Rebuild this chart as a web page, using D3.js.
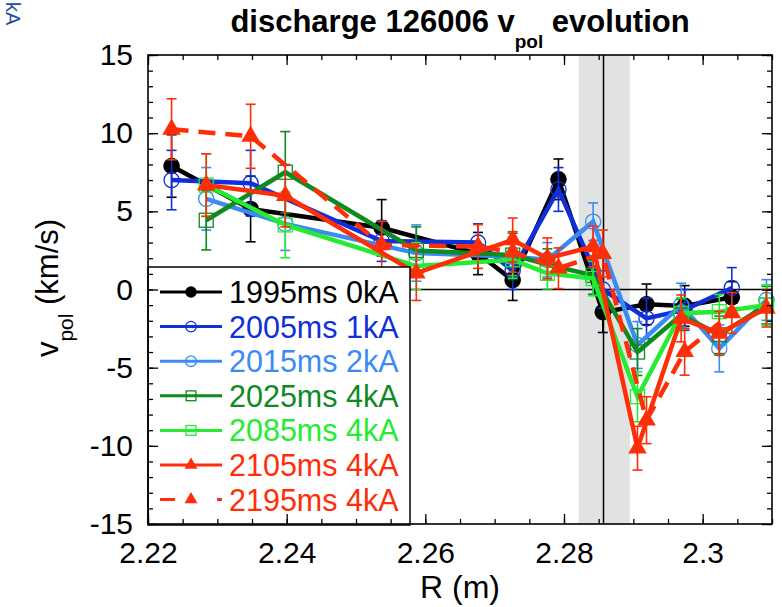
<!DOCTYPE html>
<html>
<head>
<meta charset="utf-8">
<script src="https://cdn.jsdelivr.net/npm/d3@7"></script>
<style>
  body { margin: 0; background: #fff; }
  text { font-family: "Liberation Sans", Arial, Helvetica, sans-serif; }
</style>
</head>
<body>
<div id="chart"></div>
<script>
// channel radii (m) -- two sets of views, offset by half a tick
var rA = [2.2234, 2.2348, 2.2537, 2.2676, 2.2726, 2.2792, 2.2856, 2.2919, 2.2974, 2.3042];
var rB = [2.2284, 2.2398, 2.2587, 2.2726, 2.2776, 2.2842, 2.2906, 2.2969, 2.3024, 2.3092];

// v_pol (km/s) and error bars for each time slice
var v1995 = [7.9, 5.15, 3.95, 2.3, 0.6, 7.05, -1.45, -0.95, -1.05, -0.5];
var e1995 = [2.0, 2.1, 1.8, 1.35, 1.3, 1.3, 1.3, 1.3, 1.3, 1.0];
var v2005 = [7.0, 6.8, 3.1, 3.0, 1.2, 6.4, 0.0, -1.85, -1.3, 0.1];
var e2005 = [1.9, 2.1, 1.3, 1.2, 1.2, 1.4, 1.2, 1.3, 1.3, 1.3];
var v2015 = [5.8, 4.2, 2.33, 2.1, 1.9, 4.34, -3.55, -1.0, -3.77, -0.67];
var e2015 = [2.0, 1.7, 1.8, 1.2, 1.1, 1.2, 1.5, 1.4, 1.5, 1.3];
var v2025 = [4.43, 7.5, 2.5, 2.2, 1.6, 0.9, -4.0, -1.63, -2.9, -1.0];
var e2025 = [1.9, 2.6, 1.5, 1.4, 1.0, 1.2, 1.5, 1.0, 1.2, 1.2];
var v2085 = [6.68, 4.13, 1.5, 1.9, 1.04, 0.7, -6.86, -1.52, -1.42, -1.0];
var e2085 = [2.0, 2.1, 1.5, 1.2, 1.0, 1.1, 1.6, 1.0, 1.1, 1.3];
var v2105 = [6.68, 6.0, 1.05, 3.17, 2.0, 2.75, -10.15, -1.85, -2.8, -1.2];
var e2105 = [2.0, 2.0, 1.75, 1.4, 1.3, 1.3, 1.4, 1.5, 1.4, 1.2];
var v2195 = [10.25, 9.8, 2.85, 2.75, 2.4, 1.36, 2.3, -8.36, -3.98, -1.5];
var e2195 = [1.95, 2.05, 1.5, 1.4, 1.3, 1.3, 1.5, 1.5, 1.5, 1.3];

var labels = ["1995ms 0kA", "2005ms 1kA", "2015ms 2kA", "2025ms 4kA", "2085ms 4kA", "2105ms 4kA", "2195ms 4kA"];
var colors = ["#000000", "#0f2fdc", "#3b8cf2", "#0e8b1f", "#25ec33", "#fd2e08", "#fd2e08"];

var xTicks = [2.22, 2.24, 2.26, 2.28, 2.30];
var xTickLabels = ["2.22", "2.24", "2.26", "2.28", "2.3"];
var yTicks = [-15, -10, -5, 0, 5, 10, 15];

var sepR = 2.2857;              // separatrix line
var bandR = [2.2821, 2.2895];   // shaded uncertainty band

var series = [
    {label: labels[0], r: rA, v: v1995, e: e1995, color: colors[0], sym: "fcircle", dash: null},
    {label: labels[1], r: rA, v: v2005, e: e2005, color: colors[1], sym: "ocircle", dash: null},
    {label: labels[2], r: rB, v: v2015, e: e2015, color: colors[2], sym: "ocircle", dash: null},
    {label: labels[3], r: rB, v: v2025, e: e2025, color: colors[3], sym: "square", dash: null},
    {label: labels[4], r: rB, v: v2085, e: e2085, color: colors[4], sym: "square", dash: null},
    {label: labels[5], r: rB, v: v2105, e: e2105, color: colors[5], sym: "triangle", dash: null},
    {label: labels[6], r: rA, v: v2195, e: e2195, color: colors[6], sym: "triangle", dash: "17,10"}
];

var margin = {top: 55, right: 10, bottom: 83, left: 148},
    width = 782 - margin.left - margin.right,
    height = 607 - margin.top - margin.bottom;

var svg = d3.select("#chart")
    .append("svg")
    .attr("width", 782)
    .attr("height", 607);

var g = svg.append("g")
    .attr("transform", "translate(" + margin.left + "," + margin.top + ")");

var x = d3.scaleLinear().domain([2.22, 2.31]).range([0, width]);
var y = d3.scaleLinear().domain([-15, 15]).range([height, 0]);

// shaded band + vertical line + zero line
g.append("rect")
    .attr("x", x(bandR[0]))
    .attr("width", x(bandR[1]) - x(bandR[0]))
    .attr("y", 0)
    .attr("height", height)
    .attr("fill", "#e1e3e3");

g.append("line")
    .attr("x1", 0).attr("x2", width)
    .attr("y1", y(0)).attr("y2", y(0))
    .attr("stroke", "#000").attr("stroke-width", 1.5);

g.append("line")
    .attr("x1", x(sepR)).attr("x2", x(sepR))
    .attr("y1", 0).attr("y2", height)
    .attr("stroke", "#000").attr("stroke-width", 1.5);

function marker(sel, sym, color, scale) {
    var s = scale || 1;
    if (sym == "fcircle") {
        sel.append("circle").attr("r", 8.3 * s).attr("fill", color);
    } else if (sym == "ocircle") {
        sel.append("circle").attr("r", 7.6 * s).attr("fill", "none")
            .attr("stroke", color).attr("stroke-width", 1.3);
    } else if (sym == "square") {
        sel.append("rect").attr("x", -7 * s).attr("y", -7 * s)
            .attr("width", 14 * s).attr("height", 14 * s)
            .attr("fill", "none").attr("stroke", color).attr("stroke-width", 1.3);
    } else {
        sel.append("path")
            .attr("d", d3.symbol().type(d3.symbolTriangle).size(150 * s * s)())
            .attr("fill", color);
    }
}

var line = d3.line()
    .x(function(d) { return x(d.r); })
    .y(function(d) { return y(d.v); });

series.forEach(function(s) {
    var pts = s.r.map(function(r, i) { return {r: r, v: s.v[i], e: s.e[i]}; });
    var sg = g.append("g");

    // error bars
    var eb = sg.selectAll(".eb").data(pts).enter().append("g");
    eb.append("line")
        .attr("x1", function(d) { return x(d.r); })
        .attr("x2", function(d) { return x(d.r); })
        .attr("y1", function(d) { return y(d.v - d.e); })
        .attr("y2", function(d) { return y(d.v + d.e); })
        .attr("stroke", s.color).attr("stroke-width", 1.6);
    [-1, 1].forEach(function(k) {
        eb.append("line")
            .attr("x1", function(d) { return x(d.r) - 5; })
            .attr("x2", function(d) { return x(d.r) + 5; })
            .attr("y1", function(d) { return y(d.v + k * d.e); })
            .attr("y2", function(d) { return y(d.v + k * d.e); })
            .attr("stroke", s.color).attr("stroke-width", 1.6);
    });

    sg.append("path")
        .datum(pts)
        .attr("d", line)
        .attr("fill", "none")
        .attr("stroke", s.color)
        .attr("stroke-width", 4.5)
        .attr("stroke-dasharray", s.dash);

    sg.selectAll(".mk").data(pts).enter().append("g")
        .attr("transform", function(d) { return "translate(" + x(d.r) + "," + y(d.v) + ")"; })
        .each(function() { marker(d3.select(this), s.sym, s.color); });
});

// legend
var lg = g.append("g").attr("transform", "translate(0," + (267 - margin.top) + ")");
lg.append("rect")
    .attr("x", 0).attr("y", 0)
    .attr("width", 262).attr("height", 258)
    .attr("fill", "#fff").attr("stroke", "#000").attr("stroke-width", 1.5);

series.forEach(function(s, i) {
    var row = lg.append("g").attr("transform", "translate(0," + (25 + i * 34.6) + ")");
    row.append("line")
        .attr("x1", 12).attr("x2", 74)
        .attr("stroke", s.color).attr("stroke-width", 3)
        .attr("stroke-dasharray", s.dash ? "15,42" : null);
    var m = row.append("g").attr("transform", "translate(43,0)");
    marker(m, s.sym, s.color, 0.7);
    row.append("text")
        .attr("x", 81).attr("dy", "0.36em")
        .attr("font-size", 30.5)
        .attr("fill", s.color)
        .text(s.label);
});

// axes: inward ticks on all four sides
function tickAxis(axis, vals, size) {
    return axis.tickValues(vals).tickSize(size).tickFormat("");
}
var xMinor = d3.range(0, 19).map(function(i) { return 2.22 + i * 0.005; });
var yMinor = d3.range(-15, 16);

var bx = g.append("g").attr("transform", "translate(0," + height + ")");
bx.call(tickAxis(d3.axisBottom(x), xMinor, -5));
var bxm = g.append("g").attr("transform", "translate(0," + height + ")");
bxm.call(d3.axisBottom(x).tickValues(xTicks).tickSize(-10).tickPadding(18)
    .tickFormat(function(d, i) { return xTickLabels[i]; }));
g.append("g").call(tickAxis(d3.axisTop(x), xMinor, -5));
g.append("g").call(tickAxis(d3.axisTop(x), xTicks, -10));

g.append("g").call(tickAxis(d3.axisLeft(y), yMinor, -5));
g.append("g").call(d3.axisLeft(y).tickValues(yTicks).tickSize(-10).tickPadding(15)
    .tickFormat(function(d) { return String(d); }));
g.append("g").attr("transform", "translate(" + width + ",0)")
    .call(tickAxis(d3.axisRight(y), yMinor, -5));
g.append("g").attr("transform", "translate(" + width + ",0)")
    .call(tickAxis(d3.axisRight(y), yTicks, -10));

g.selectAll(".domain").remove();
g.selectAll(".tick line").attr("stroke", "#000").attr("stroke-width", 1.3);
g.selectAll(".tick text")
    .attr("font-family", "Liberation Sans, Arial, sans-serif")
    .attr("font-size", 30)
    .attr("fill", "#000");

g.append("rect")
    .attr("width", width).attr("height", height)
    .attr("fill", "none").attr("stroke", "#000").attr("stroke-width", 1.6);

// title
var title = svg.append("text")
    .attr("x", 460).attr("y", 32)
    .attr("text-anchor", "middle")
    .attr("font-size", 31).attr("font-weight", "bold");
title.append("tspan").text("discharge 126006 v");
title.append("tspan").attr("font-size", 19).attr("dy", 16).text("pol");
title.append("tspan").attr("dy", -16).text(" evolution");

// axis titles
svg.append("text")
    .attr("x", 460).attr("y", 598)
    .attr("text-anchor", "middle")
    .attr("font-size", 32)
    .text("R (m)");

var yt = svg.append("text")
    .attr("transform", "translate(58,288) rotate(-90)")
    .attr("text-anchor", "middle")
    .attr("font-size", 31);
yt.append("tspan").text("v");
yt.append("tspan").attr("font-size", 21).attr("dy", 15).text("pol");
yt.append("tspan").attr("dy", -15).text(" (km/s)");

// small label left over from a neighbouring panel, top-left corner
svg.append("text")
    .attr("transform", "translate(6,2) rotate(90)")
    .attr("font-size", 20)
    .attr("fill", "#1f4f9a")
    .text("kA");
</script>
</body>
</html>
